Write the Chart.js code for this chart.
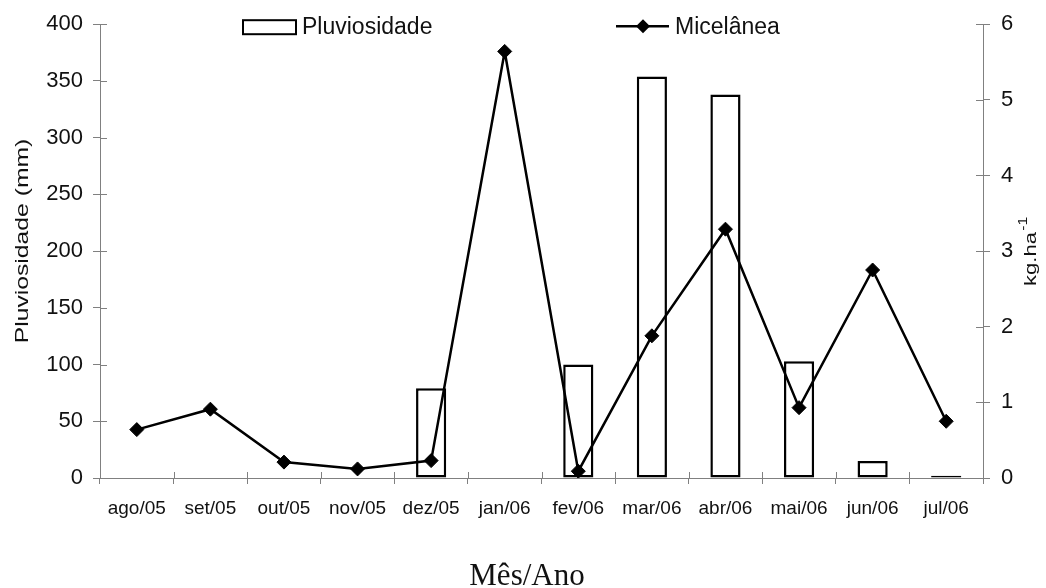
<!DOCTYPE html>
<html>
<head>
<meta charset="utf-8">
<script src="https://cdn.jsdelivr.net/npm/chart.js@4"></script>
<style>
  html, body { margin: 0; padding: 0; background: #fff; }
  #wrap { width: 1046px; height: 588px; }
</style>
</head>
<body>
<div id="wrap"><canvas id="c" width="1046" height="588"></canvas></div>
<script>
const categories = ['ago/05','set/05','out/05','nov/05','dez/05','jan/06','fev/06','mar/06','abr/06','mai/06','jun/06','jul/06'];
const pluviosidade = [null, null, null, null, 79, null, 100, 354, 338, 103, 15, 2];
const micelanea = [0.64, 0.91, 0.21, 0.12, 0.23, 5.64, 0.09, 1.88, 3.29, 0.93, 2.75, 0.75];
const leftTicks = [0, 50, 100, 150, 200, 250, 300, 350, 400];
const rightTicks = [0, 1, 2, 3, 4, 5, 6];
const leftTitle = 'Pluviosidade (mm)';
const rightTitle = 'kg.ha';
const rightTitleSup = '-1';
const xTitle = 'Mês/Ano';

const SANS = 'Liberation Sans, Arial, sans-serif';
const SERIF = 'Liberation Serif, Times New Roman, serif';
const AXIS = '#808080';
const TEXT = '#111';

const decoPlugin = {
  id: 'deco',
  afterDraw(chart) {
    const ctx = chart.ctx;
    const ca = chart.chartArea;
    ctx.save();
    // inner halves of tick marks (crossing ticks)
    ctx.strokeStyle = AXIS;
    ctx.lineWidth = 1;
    const y = chart.scales.y, y1 = chart.scales.y1, x = chart.scales.x;
    ctx.beginPath();
    y.ticks.forEach((t, i) => { const p = Math.round(y.getPixelForTick(i)) + 0.5; ctx.moveTo(ca.left, p); ctx.lineTo(ca.left + 7, p); });
    y1.ticks.forEach((t, i) => { const p = Math.round(y1.getPixelForTick(i)) + 0.5; ctx.moveTo(ca.right, p); ctx.lineTo(ca.right - 7, p); });
    for (let i = 1; i < categories.length; i++) {
      const p = Math.round((x.getPixelForValue(i - 1) + x.getPixelForValue(i)) / 2) + 0.5;
      ctx.moveTo(p, ca.bottom); ctx.lineTo(p, ca.bottom - 6);
    }
    ctx.stroke();

    // legend
    const ds = chart.data.datasets;
    const ly = ca.top + 2;
    ctx.font = '23px ' + SANS;
    ctx.textBaseline = 'middle';
    ctx.textAlign = 'left';
    ctx.lineWidth = 2;
    ctx.strokeStyle = '#000';
    ctx.fillStyle = '#fff';
    ctx.fillRect(243, ly - 6, 53, 14);
    ctx.strokeRect(243, ly - 6, 53, 14);
    ctx.fillStyle = TEXT;
    ctx.fillText(ds[0].label, 302, ly + 1);
    ctx.lineWidth = 2.5;
    ctx.beginPath(); ctx.moveTo(616, ly); ctx.lineTo(669, ly); ctx.stroke();
    ctx.fillStyle = '#000';
    ctx.beginPath(); ctx.moveTo(643, ly - 7); ctx.lineTo(650, ly); ctx.lineTo(643, ly + 7); ctx.lineTo(636, ly); ctx.closePath(); ctx.fill();
    ctx.fillStyle = TEXT;
    ctx.fillText(ds[1].label, 675, ly + 1);

    // x axis title
    ctx.font = '31px ' + SERIF;
    ctx.textAlign = 'center';
    ctx.textBaseline = 'alphabetic';
    ctx.fillText(xTitle, 527, 585);

    // left axis title (rotated)
    ctx.save();
    ctx.translate(23, 241);
    ctx.rotate(-Math.PI / 2);
    ctx.scale(1.3, 1);
    ctx.font = '19px ' + SANS;
    ctx.textAlign = 'center';
    ctx.textBaseline = 'middle';
    ctx.fillText(leftTitle, 0, 0);
    ctx.restore();

    // right axis title kg.ha-1 (rotated, reading bottom-to-top)
    ctx.save();
    ctx.translate(1036, 259);
    ctx.rotate(-Math.PI / 2);
    ctx.scale(1.3, 1);
    ctx.font = '17px ' + SANS;
    ctx.textAlign = 'center';
    ctx.textBaseline = 'alphabetic';
    ctx.fillText(rightTitle, 0, 0);
    const w = ctx.measureText(rightTitle).width;
    ctx.font = '12px ' + SANS;
    ctx.textAlign = 'left';
    ctx.fillText(rightTitleSup, w / 2 + 1, -9);
    ctx.restore();

    ctx.restore();
  }
};

new Chart(document.getElementById('c'), {
  data: {
    labels: categories,
    datasets: [
      {
        type: 'bar',
        label: 'Pluviosidade',
        data: pluviosidade,
        yAxisID: 'y',
        backgroundColor: '#ffffff',
        borderColor: '#000000',
        borderWidth: 2.5,
        borderSkipped: false,
        barPercentage: 0.41,
        categoryPercentage: 1.0,
        order: 2
      },
      {
        type: 'line',
        label: 'Micelânea',
        data: micelanea,
        yAxisID: 'y1',
        borderColor: '#000000',
        borderWidth: 2.5,
        tension: 0,
        pointStyle: 'rectRot',
        pointRadius: 7,
        pointHoverRadius: 7,
        pointBackgroundColor: '#000000',
        pointBorderColor: '#000000',
        pointBorderWidth: 1,
        order: 1
      }
    ]
  },
  options: {
    responsive: false,
    animation: false,
    devicePixelRatio: 1,
    layout: { padding: { top: 24, left: 0, right: 0, bottom: 0 } },
    plugins: {
      legend: { display: false },
      tooltip: { enabled: false }
    },
    scales: {
      x: {
        type: 'category',
        offset: true,
        grid: { display: true, drawOnChartArea: false, offset: true, tickLength: 6, color: AXIS },
        border: { color: AXIS, width: 1 },
        ticks: { color: TEXT, font: { family: SANS, size: 19 }, padding: 13, maxRotation: 0, autoSkip: false },
        afterFit(s) { s.height = 110; }
      },
      y: {
        type: 'linear',
        position: 'left',
        min: 0, max: 400,
        afterBuildTicks(s) { s.ticks = leftTicks.map(v => ({ value: v })); },
        grid: { display: true, drawOnChartArea: false, tickLength: 7, color: AXIS },
        border: { color: AXIS, width: 1 },
        ticks: { color: TEXT, font: { family: SANS, size: 22 }, padding: 10 },
        afterFit(s) { s.width = 100; }
      },
      y1: {
        type: 'linear',
        position: 'right',
        min: 0, max: 6,
        afterBuildTicks(s) { s.ticks = rightTicks.map(v => ({ value: v })); },
        grid: { display: true, drawOnChartArea: false, tickLength: 7, color: AXIS },
        border: { color: AXIS, width: 1 },
        ticks: { color: TEXT, font: { family: SANS, size: 22 }, padding: 11 },
        afterFit(s) { s.width = 63; }
      }
    }
  },
  plugins: [decoPlugin]
});
</script>
</body>
</html>
